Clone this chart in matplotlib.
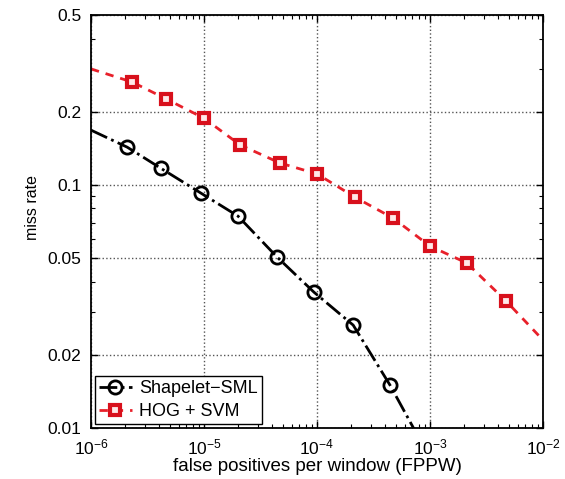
import matplotlib
matplotlib.use("Agg")
import matplotlib.pyplot as plt
from matplotlib.ticker import LogLocator, FixedLocator, NullFormatter

plt.rcParams['font.family'] = ['Liberation Sans', 'DejaVu Sans']
plt.rcParams['mathtext.fontset'] = 'custom'
plt.rcParams['mathtext.rm'] = 'Liberation Sans'
plt.rcParams['mathtext.it'] = 'Liberation Sans:italic'
plt.rcParams['mathtext.sf'] = 'Liberation Sans'

# Shapelet-SML (black): line endpoints + marker points
sml_fppw = [1.0e-6, 2.09e-6, 4.16e-6, 9.4e-6, 2.0e-5, 4.43e-5, 9.4e-5, 2.09e-4, 4.43e-4, 7.4e-4]
sml_miss = [0.168, 0.143, 0.117, 0.0925, 0.0744, 0.0505, 0.0362, 0.0265, 0.0150, 0.0097]

# HOG + SVM (red)
hog_fppw = [1.0e-6, 2.31e-6, 4.61e-6, 1.0e-5, 2.09e-5, 4.71e-5, 1.0e-4, 2.17e-4, 4.71e-4,
            1.0e-3, 2.12e-3, 4.71e-3, 1.0e-2]
hog_miss = [0.30, 0.265, 0.226, 0.188, 0.146, 0.123, 0.111, 0.089, 0.073,
            0.056, 0.0477, 0.0333, 0.023]

ytick_vals = [0.01, 0.02, 0.05, 0.1, 0.2, 0.5]
ytick_labels = ['0.01', '0.02', '0.05', '0.1', '0.2', '0.5']

fig = plt.figure(figsize=(5.65, 4.79), dpi=100)
ax = fig.add_axes([91/565, 1 - 428/479, (543-91)/565, (428-15)/479])

ax.plot(sml_fppw, sml_miss, color='black', linestyle='-.', linewidth=2,
        marker='o', markersize=9.5, markerfacecolor='none', markeredgewidth=2,
        markeredgecolor='black', markevery=list(range(1, len(sml_fppw) - 1)),
        label='Shapelet\u2212SML')
ax.plot(hog_fppw, hog_miss, color='#e8202a', linestyle='--', linewidth=2,
        dashes=(3, 2.5),
        marker='s', markersize=6.5, markerfacecolor='#ffe8e8', markeredgewidth=3,
        markeredgecolor='#d8101c', markevery=list(range(1, len(hog_fppw) - 1)),
        label='HOG + SVM')

ax.set_xscale('log')
ax.set_yscale('log')
ax.set_xlim(1e-6, 1e-2)
ax.set_ylim(0.01, 0.5)

ax.yaxis.set_major_locator(FixedLocator(ytick_vals))
ax.set_yticklabels(ytick_labels)
ax.yaxis.set_minor_locator(LogLocator(base=10, subs=range(2, 10)))
ax.yaxis.set_minor_formatter(NullFormatter())
ax.xaxis.set_minor_locator(LogLocator(base=10, subs=range(2, 10)))
ax.xaxis.set_minor_formatter(NullFormatter())

ax.tick_params(which='both', direction='in', top=True, right=True)
ax.tick_params(axis='y', labelsize=12.5, pad=7)
ax.tick_params(axis='x', labelsize=12.5, pad=7)
ax.tick_params(which='major', length=5, width=1)
ax.tick_params(which='minor', length=3, width=0.8)

ax.grid(True, which='major', linestyle=':', color='#555555', linewidth=1)
for s in ax.spines.values():
    s.set_linewidth(1.3)

ax.set_xlabel('false positives per window (FPPW)', fontsize=13.5, labelpad=0)
ax.set_ylabel('miss rate', fontsize=11.5)
ax.yaxis.set_label_coords(-0.112, 0.535)

leg = ax.legend(loc='lower left', fontsize=13, fancybox=False, framealpha=1,
                edgecolor='black', borderaxespad=0.2, handlelength=1.8,
                handletextpad=0.4, borderpad=0.25, labelspacing=0.3)
leg.get_frame().set_linewidth(1.0)

fig.savefig('out.png', dpi=100)
